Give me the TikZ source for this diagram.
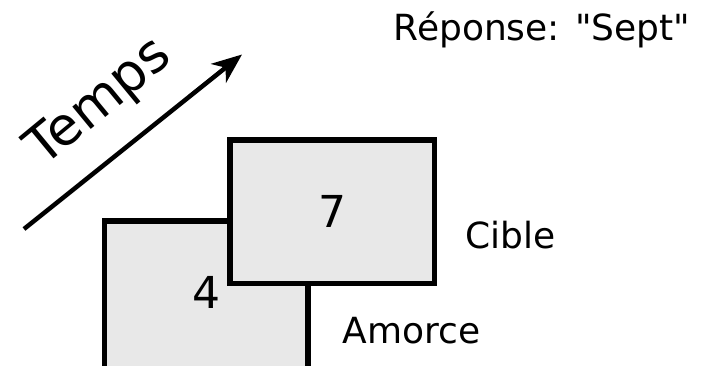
\documentclass[tikz,border=0pt]{standalone}
\usepackage{fontspec}
\setmainfont{DejaVu Sans}[Ligatures=TeXOff]
\usetikzlibrary{arrows.meta}
\begin{document}
\begin{tikzpicture}[x=1pt,y=-1pt,
  card/.style={draw=black, fill=black!9, line width=5.5pt, rectangle,
    inner sep=0pt, outer sep=0pt, anchor=north west},
  digit/.style={inner sep=0pt, font=\fontsize{44}{52}\selectfont},
  lbl/.style={inner sep=0pt, anchor=base west, font=\fontsize{36}{43}\selectfont},
  timearrow/.style={line width=4.5pt,
    -{Stealth[length=30pt, width=24pt, inset=9pt]}}]
  \useasboundingbox (0,0) rectangle (709,365);

  % time axis
  \coordinate (t0) at (24,229);
  \coordinate (t1) at (242,54.5);
  \draw[timearrow] (t0) -- (t1);
  \node[inner sep=0pt, anchor=base, rotate=39.5,
        font=\fontsize{53}{62}\selectfont] (temps) at (109,114) {Temps};

  % prime card (runs past the lower edge)
  \begin{scope}
    \clip (0,0) rectangle (709,365);
    \node[card, minimum width=203.5pt, minimum height=170pt] (amorce) at (104.5,221) {};
  \end{scope}
  \node[digit] (quatre) at (206.25,292.5) {4};

  % target card, drawn over the prime
  \node[card, minimum width=204.5pt, minimum height=143.5pt] (cible) at (230,140) {};
  \node[digit] (sept) at (cible.center) {7};

  % labels
  \node[lbl] (lcible) at (465,248.5) {Cible};
  \node[lbl] (lamorce) at (342.5,343) {Amorce};
  \node[lbl] (reponse) at (393.5,40) {Réponse: "Sept"};
\end{tikzpicture}
\end{document}
